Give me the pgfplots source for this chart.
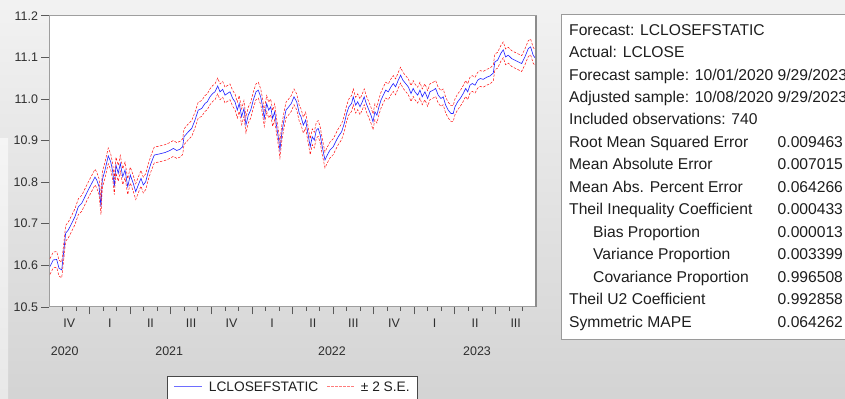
\documentclass[border=0pt]{standalone}
\usepackage{pgfplots}
\pgfplotsset{compat=1.18}
\usepackage{pgfplotstable}
\usepackage{fontspec}
\setmainfont{Liberation Sans}

% static forecast of LCLOSE; x = months since 1 Oct 2020
\pgfplotstableread{
m f
0.07 10.597
0.32 10.613
0.57 10.614
0.74 10.593
0.94 10.589
1.13 10.645
1.23 10.677
1.43 10.685
1.68 10.701
1.92 10.717
2.17 10.741
2.42 10.749
2.66 10.765
2.90 10.781
3.16 10.797
3.40 10.812
3.53 10.805
3.70 10.789
3.84 10.741
3.94 10.805
4.14 10.829
4.38 10.863
4.56 10.849
4.71 10.825
4.83 10.789
4.95 10.841
5.12 10.821
5.27 10.845
5.45 10.813
5.62 10.829
5.82 10.789
6.01 10.817
6.23 10.797
6.41 10.777
6.60 10.793
6.80 10.809
6.97 10.793
7.15 10.801
7.34 10.825
7.54 10.845
7.78 10.865
8.20 10.868
8.57 10.871
8.94 10.876
9.19 10.881
9.44 10.876
9.68 10.879
9.88 10.885
9.98 10.909
10.30 10.921
10.55 10.929
10.79 10.949
11.03 10.973
11.29 10.977
11.53 10.989
11.70 10.993
11.90 11.005
12.10 11.013
12.27 11.017
12.47 11.031
12.64 11.017
12.84 11.023
13.01 11.009
13.18 11.013
13.38 11.017
13.58 11.001
13.75 10.993
13.92 10.973
14.06 10.989
14.24 10.957
14.41 10.977
14.56 10.937
14.73 10.961
14.91 10.973
15.10 10.997
15.30 11.017
15.47 11.021
15.65 11.005
15.79 10.981
15.91 10.953
16.09 10.989
16.24 10.973
16.39 10.981
16.53 10.953
16.68 10.969
16.83 10.933
16.98 10.901
17.07 10.877
17.22 10.921
17.37 10.949
17.52 10.973
17.72 10.981
17.91 10.989
18.11 11.005
18.31 10.993
18.50 10.965
18.63 10.957
18.80 10.937
18.97 10.949
19.16 10.913
19.31 10.885
19.46 10.909
19.61 10.901
19.76 10.925
19.90 10.929
20.05 10.913
20.20 10.885
20.40 10.853
20.57 10.865
20.77 10.877
21.01 10.885
21.19 10.897
21.38 10.909
21.63 10.921
21.83 10.941
22.00 10.965
22.17 10.981
22.37 10.989
22.49 11.005
22.67 10.985
22.82 10.993
22.99 10.981
23.16 10.993
23.30 11.005
23.45 10.989
23.60 10.977
23.80 10.961
23.95 10.945
24.09 10.969
24.24 10.961
24.39 10.981
24.54 10.997
24.71 11.009
24.89 11.021
25.08 11.017
25.28 11.029
25.45 11.037
25.62 11.029
25.82 11.045
25.99 11.057
26.16 11.045
26.36 11.037
26.56 11.029
26.76 11.013
26.92 11.025
27.05 11.017
27.25 11.009
27.42 11.021
27.59 11.005
27.79 11.017
27.99 11.001
28.16 11.017
28.40 11.021
28.58 11.025
28.77 11.009
28.97 11.001
29.14 11.005
29.32 10.985
29.51 10.973
29.71 10.965
29.88 10.965
30.01 10.981
30.21 10.993
30.40 11.001
30.62 11.013
30.80 11.025
30.95 11.017
31.12 11.033
31.29 11.037
31.49 11.033
31.69 11.045
31.88 11.049
32.10 11.047
32.35 11.052
32.59 11.055
32.84 11.062
32.96 11.089
33.16 11.093
33.41 11.110
33.58 11.118
33.75 11.101
33.95 11.105
34.20 11.097
34.44 11.093
34.69 11.089
34.94 11.085
35.18 11.101
35.43 11.121
35.60 11.125
35.79 11.105
35.97 11.097
}\fc

% two standard errors of the static forecast
\def\twose{0.019}

\definecolor{panelline}{HTML}{9A9A9A}
\definecolor{txt}{HTML}{1E1E1E}
\definecolor{fcblue}{HTML}{2020FF}
\definecolor{bandred}{HTML}{FF1010}

\begin{document}
\begin{tikzpicture}
% window background
\begin{scope}[x=1bp,y=1bp]
\shade[top color=black!5, bottom color=black!17] (0,0) rectangle (845,398);
\shade[top color=black!4, bottom color=black!9] (0,0) rectangle (8,260);
\end{scope}

\begin{axis}[
  at={(49bp,91.1bp)}, anchor=south west,
  width=487bp, height=291.2bp, scale only axis,
  xmin=0, xmax=36, ymin=10.5, ymax=11.2,
  axis background/.style={fill=white},
  axis line style={draw=black!38, line width=0.9bp},
  tick align=outside, xtick pos=bottom, ytick pos=left,
  major tick length=7.5bp, minor tick length=4bp,
  every tick/.style={draw=black!65, line width=0.7bp},
  ytick={10.5,10.6,10.7,10.8,10.9,11.0,11.1,11.2},
  /pgf/number format/fixed,
  /pgf/number format/fixed zerofill,
  /pgf/number format/precision=1,
  /pgf/number format/assume math mode=true,
  xtick={3,6,9,12,15,18,21,24,27,30,33},
  xticklabels={},
  minor xtick={1,2,4,5,7,8,10,11,13,14,16,17,19,20,22,23,25,26,28,29,31,32,34,35},
  extra x ticks={1.5,4.5,7.5,10.5,13.5,16.5,19.5,22.5,25.5,28.5,31.5,34.5},
  extra x tick labels={IV,I,II,III,IV,I,II,III,IV,I,II,III},
  extra x tick style={major tick length=0pt, tick label style={yshift=-9bp}},
  tick label style={font=\fontsize{12.5}{15}\selectfont, text=black!82},
  after end axis/.code={\draw[black!45, line width=1.6bp] (rel axis cs:1,0) -- (rel axis cs:1,1);},
]
\addplot[color=fcblue, line width=0.6bp] table[x=m, y=f] {\fc};
\addplot[color=bandred, line width=0.5bp, dash pattern=on 2.5bp off 1.5bp]
  table[x=m, y expr=\thisrow{f}+\twose] {\fc};
\addplot[color=bandred, line width=0.5bp, dash pattern=on 2.5bp off 1.5bp]
  table[x=m, y expr=\thisrow{f}-\twose] {\fc};
\end{axis}

\begin{scope}[x=1bp,y=1bp]
% year labels under the quarter labels
\begin{scope}[every node/.style={font=\fontsize{12.5}{15}\selectfont, text=black!82}]
\node at (64.7,46.3) {2020};
\node at (169.2,46.3) {2021};
\node at (332,46.3) {2022};
\node at (477,46.3) {2023};
\end{scope}

% legend box below the axis
\filldraw[fill=white, draw=black!72, line width=0.7bp] (167,-4) rectangle (417.7,21.3);
\draw[fcblue!65, line width=0.8bp] (174,11.3) -- (202,11.3);
\draw[bandred!55, line width=0.8bp, dash pattern=on 2.5bp off 1.5bp] (327.3,11.3) -- (355,11.3);
\begin{scope}[every node/.style={anchor=west, inner sep=0pt, font=\fontsize{13.8}{16}\selectfont, text=black!88}]
\node at (208.7,11.3) {LCLOSEFSTATIC};
\node at (360.7,11.3) {± 2 S.E.};
\end{scope}

% forecast evaluation table
\fill[white] (561,59) rectangle (850,383.3);
\draw[panelline, line width=1bp] (850,59) -- (561,59) -- (561,383.3) -- (850,383.3);
\begin{scope}[every node/.style={anchor=base west, inner sep=0pt, font=\fontsize{15.7}{18}\selectfont, text=txt}]
\node at (569,363.0) {Forecast: LCLOSEFSTATIC};
\node at (569,340.5) {Actual: LCLOSE};
\node at (569,318.0) {Forecast sample: 10/01/2020 9/29/2023};
\node at (569,295.6) {Adjusted sample: 10/08/2020 9/29/2023};
\node at (569,273.1) {Included observations: 740};
\node at (569,250.6) {Root Mean Squared Error};
\node at (569,228.1) {Mean Absolute Error};
\node at (569,205.6) {Mean Abs. Percent Error};
\node at (569,183.2) {Theil Inequality Coefficient};
\node at (593,160.7) {Bias Proportion};
\node at (593,138.2) {Variance Proportion};
\node at (593,115.7) {Covariance Proportion};
\node at (569,93.2) {Theil U2 Coefficient};
\node at (569,70.8) {Symmetric MAPE};
\node at (777.5,250.6) {0.009463};
\node at (777.5,228.1) {0.007015};
\node at (777.5,205.6) {0.064266};
\node at (777.5,183.2) {0.000433};
\node at (777.5,160.7) {0.000013};
\node at (777.5,138.2) {0.003399};
\node at (777.5,115.7) {0.996508};
\node at (777.5,93.2) {0.992858};
\node at (777.5,70.8) {0.064262};
\end{scope}

% page = window area
\pgfresetboundingbox
\useasboundingbox (0,0) rectangle (845,398);
\end{scope}
\end{tikzpicture}
\end{document}
